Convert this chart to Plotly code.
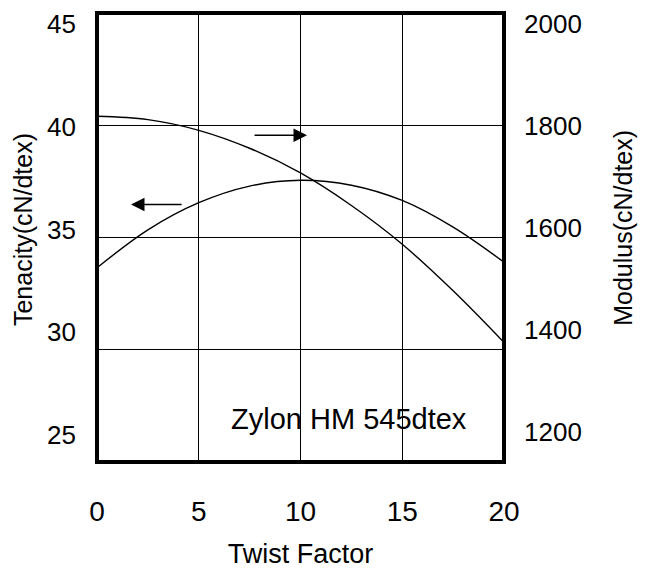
import plotly.graph_objects as go

# Data
twist_factor = [0, 2.5, 5, 7.5, 10, 12.5, 15, 17.5, 20]
tenacity = [33.65, 35.34, 36.55, 37.29, 37.55, 37.33, 36.65, 35.46, 33.9]
modulus = [1816, 1810, 1791, 1759, 1715, 1657, 1588, 1505, 1413]

x_ticks = [0, 5, 10, 15, 20]
ten_ticks = [25, 30, 35, 40, 45]
mod_ticks = [1200, 1400, 1600, 1800, 2000]

label_text = "Zylon HM 545dtex"
# arrow (tail -> head) positions in data units
arrow_mod = dict(x0=7.67, x1=10.32, y=39.55)
arrow_ten = dict(x0=4.23, x1=1.67, y=36.47)
label_pos = dict(x=12.38, y=26.92)

FONT = "Arial, Liberation Sans, sans-serif"

fig = go.Figure()
fig.add_trace(go.Scatter(x=twist_factor, y=tenacity, mode="lines",
                         line=dict(color="black", width=1.4, shape="spline"),
                         name="Tenacity", yaxis="y"))
fig.add_trace(go.Scatter(x=twist_factor, y=modulus, mode="lines",
                         line=dict(color="black", width=1.4, shape="spline"),
                         name="Modulus", yaxis="y2"))
# empty traces that carry the tick-label axes (labels in the reference sit slightly off the grid)
fig.add_trace(go.Scatter(x=[None], y=[None], yaxis="y3", showlegend=False, hoverinfo="skip"))
fig.add_trace(go.Scatter(x=[None], y=[None], yaxis="y4", showlegend=False, hoverinfo="skip"))

label_axis = dict(showgrid=False, zeroline=False, showline=False, ticks="",
                  automargin=False, tickfont=dict(size=26),
                  ticklabeloverflow="allow", anchor="free")

fig.update_layout(
    width=655, height=570,
    margin=dict(l=89, r=159, t=5, b=116),
    paper_bgcolor="white", plot_bgcolor="rgba(0,0,0,0)",
    showlegend=False,
    font=dict(family=FONT, size=26, color="black"),
    xaxis=dict(range=[0, 20], tickvals=x_ticks, showgrid=True, gridcolor="black",
               gridwidth=1, zeroline=False, showline=False, automargin=False,
               ticks="", ticklabelstandoff=30, tickfont=dict(size=28),
               title=dict(text="Twist Factor", font=dict(size=27), standoff=18)),
    yaxis=dict(range=[25, 45], tickvals=ten_ticks, showgrid=True, gridcolor="black",
               gridwidth=1, zeroline=False, showline=False, ticks="", automargin=False,
               showticklabels=False),
    yaxis2=dict(range=[1200, 2000], tickvals=mod_ticks, overlaying="y", side="right",
                showgrid=False, zeroline=False, showline=False, ticks="", automargin=False,
                showticklabels=False),
    yaxis3=dict(range=[25, 45], tickvals=ten_ticks, side="left", position=0,
                domain=[0.0601, 0.9755], ticklabelstandoff=21,
                title=dict(text="Tenacity(cN/dtex)", font=dict(size=25), standoff=6),
                **label_axis),
    yaxis4=dict(range=[1200, 2000], tickvals=mod_ticks, side="right", position=1,
                domain=[0.0675, 0.9755], ticklabelstandoff=19,
                title=dict(text="Modulus(cN/dtex)", font=dict(size=25), standoff=33),
                **label_axis),
)

# thick frame
fig.add_shape(type="rect", xref="paper", yref="paper", x0=0, y0=0, x1=1, y1=1,
              line=dict(color="black", width=4), layer="above")

fig.add_annotation(x=arrow_mod["x1"], y=arrow_mod["y"], ax=arrow_mod["x0"], ay=arrow_mod["y"],
                   xref="x", yref="y", axref="x", ayref="y", text="", showarrow=True,
                   arrowhead=2, arrowsize=1.8, arrowwidth=1.5, arrowcolor="black")
fig.add_annotation(x=arrow_ten["x1"], y=arrow_ten["y"], ax=arrow_ten["x0"], ay=arrow_ten["y"],
                   xref="x", yref="y", axref="x", ayref="y", text="", showarrow=True,
                   arrowhead=2, arrowsize=1.8, arrowwidth=1.5, arrowcolor="black")
fig.add_annotation(x=label_pos["x"], y=label_pos["y"], xref="x", yref="y",
                   text=label_text, showarrow=False,
                   font=dict(family=FONT, size=29, color="black"))

fig.write_html("out.html")
